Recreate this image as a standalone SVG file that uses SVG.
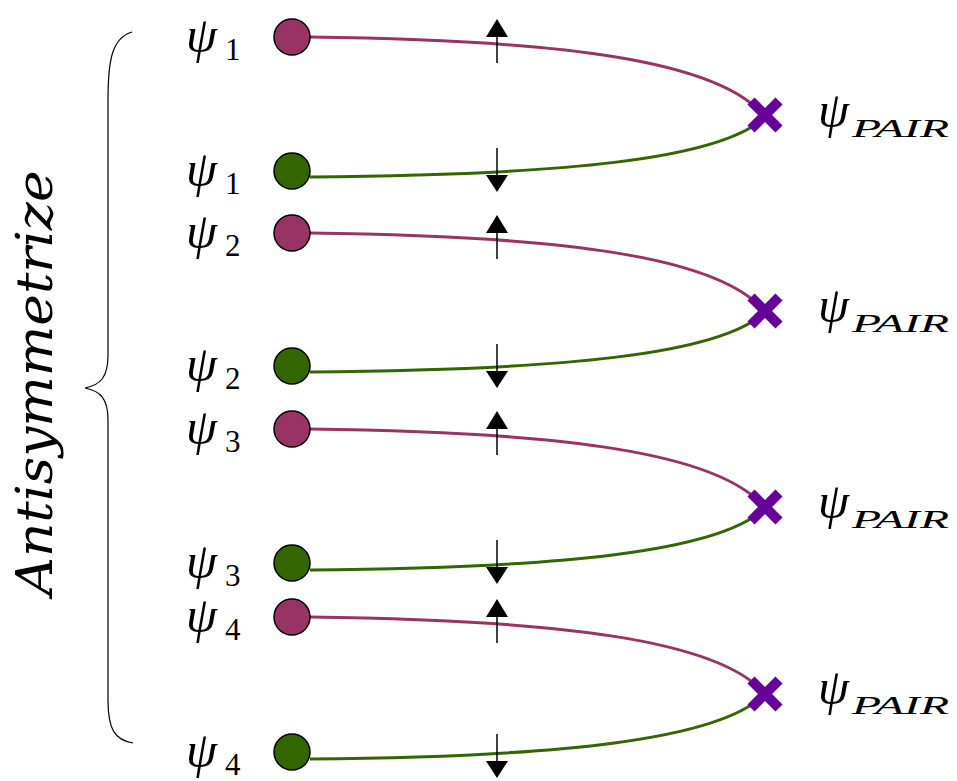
<svg xmlns="http://www.w3.org/2000/svg" width="957" height="781" viewBox="0 0 957 781">
<defs>
<style>
.psi{font-family:"Liberation Serif",serif;font-style:italic;font-size:50px;fill:#000}
.sub{font-family:"Liberation Serif",serif;font-size:31px;fill:#000}
.psub{font-family:"Liberation Serif",serif;font-style:italic;font-size:25px;fill:#000}
.top{fill:#993366;stroke:#000;stroke-width:1.5}
.bot{fill:#336600;stroke:#000;stroke-width:1.5}
.pl{fill:none;stroke:#993366;stroke-width:3}
.gl{fill:none;stroke:#336600;stroke-width:3}
.cross{stroke:#660099;stroke-width:10;fill:none}
.ar{stroke:#000;stroke-width:1.5}
.brace{fill:none;stroke:#000;stroke-width:1.2}
</style>
</defs>
<rect width="957" height="781" fill="#fff"/>
<g id="brace"><path class="brace" d="M132,32 C112,38 108,60 108,100 L108,355 C108,378 100,385 85,388 C100,391 108,398 108,420 L108,700 C108,730 115,740 133,743"/></g>
<text id="antisym" transform="translate(52,383) rotate(-90)" text-anchor="middle" font-family="'DejaVu Serif',serif" font-style="italic" font-size="50" textLength="425" lengthAdjust="spacingAndGlyphs">Antisymmetrize</text>
<g id="connectors">
<path class="pl" d="M310,37 C560,40 720,60 765,117"/>
<path class="gl" d="M310,177 C560,175 720,160 765,117"/>
<path class="pl" d="M310,233 C560,236 720,256 765,312"/>
<path class="gl" d="M310,372 C560,370 720,355 765,312"/>
<path class="pl" d="M310,429 C560,432 720,452 765,508"/>
<path class="gl" d="M310,570 C560,568 720,552 765,508"/>
<path class="pl" d="M310,617 C560,620 720,640 765,694"/>
<path class="gl" d="M310,759 C560,757 720,740 765,694"/>
</g>
<g id="spins">
<line class="ar" x1="497" y1="36" x2="497" y2="63"/><polygon points="497,19 486,37 508,37"/>
<line class="ar" x1="497" y1="148" x2="497" y2="175"/><polygon points="497,192 486,175 508,175"/>
<line class="ar" x1="497" y1="232" x2="497" y2="259"/><polygon points="497,215 486,233 508,233"/>
<line class="ar" x1="497" y1="344" x2="497" y2="371"/><polygon points="497,388 486,371 508,371"/>
<line class="ar" x1="497" y1="428" x2="497" y2="455"/><polygon points="497,411 486,429 508,429"/>
<line class="ar" x1="497" y1="540" x2="497" y2="567"/><polygon points="497,584 486,567 508,567"/>
<line class="ar" x1="497" y1="616" x2="497" y2="643"/><polygon points="497,599 486,617 508,617"/>
<line class="ar" x1="497" y1="734" x2="497" y2="761"/><polygon points="497,778 486,761 508,761"/>
</g>
<g id="pair1">
<circle class="top" cx="292" cy="37" r="18"/><text class="psi" x="186" y="52">ψ</text><text class="sub" x="225" y="60">1</text>
<circle class="bot" cx="292" cy="171" r="18"/><text class="psi" x="186" y="186">ψ</text><text class="sub" x="225" y="194">1</text>
<path class="cross" d="M751,101 L779,129 M779,101 L751,129"/><text class="psi" x="818" y="127">ψ</text><text class="psub" x="852" y="137" textLength="97" lengthAdjust="spacingAndGlyphs">PAIR</text>
</g>
<g id="pair2">
<circle class="top" cx="292" cy="233" r="18"/><text class="psi" x="186" y="248">ψ</text><text class="sub" x="225" y="256">2</text>
<circle class="bot" cx="292" cy="366" r="18"/><text class="psi" x="186" y="381">ψ</text><text class="sub" x="225" y="389">2</text>
<path class="cross" d="M751,297 L779,325 M779,297 L751,325"/><text class="psi" x="818" y="322">ψ</text><text class="psub" x="852" y="332" textLength="97" lengthAdjust="spacingAndGlyphs">PAIR</text>
</g>
<g id="pair3">
<circle class="top" cx="292" cy="429" r="18"/><text class="psi" x="186" y="444">ψ</text><text class="sub" x="225" y="452">3</text>
<circle class="bot" cx="292" cy="563" r="18"/><text class="psi" x="186" y="578">ψ</text><text class="sub" x="225" y="586">3</text>
<path class="cross" d="M751,493 L779,521 M779,493 L751,521"/><text class="psi" x="818" y="518">ψ</text><text class="psub" x="852" y="528" textLength="97" lengthAdjust="spacingAndGlyphs">PAIR</text>
</g>
<g id="pair4">
<circle class="top" cx="292" cy="617" r="18"/><text class="psi" x="186" y="632">ψ</text><text class="sub" x="225" y="640">4</text>
<circle class="bot" cx="292" cy="752" r="18"/><text class="psi" x="186" y="767">ψ</text><text class="sub" x="225" y="775">4</text>
<path class="cross" d="M751,680 L779,708 M779,680 L751,708"/><text class="psi" x="818" y="704">ψ</text><text class="psub" x="852" y="714" textLength="97" lengthAdjust="spacingAndGlyphs">PAIR</text>
</g>
</svg>
